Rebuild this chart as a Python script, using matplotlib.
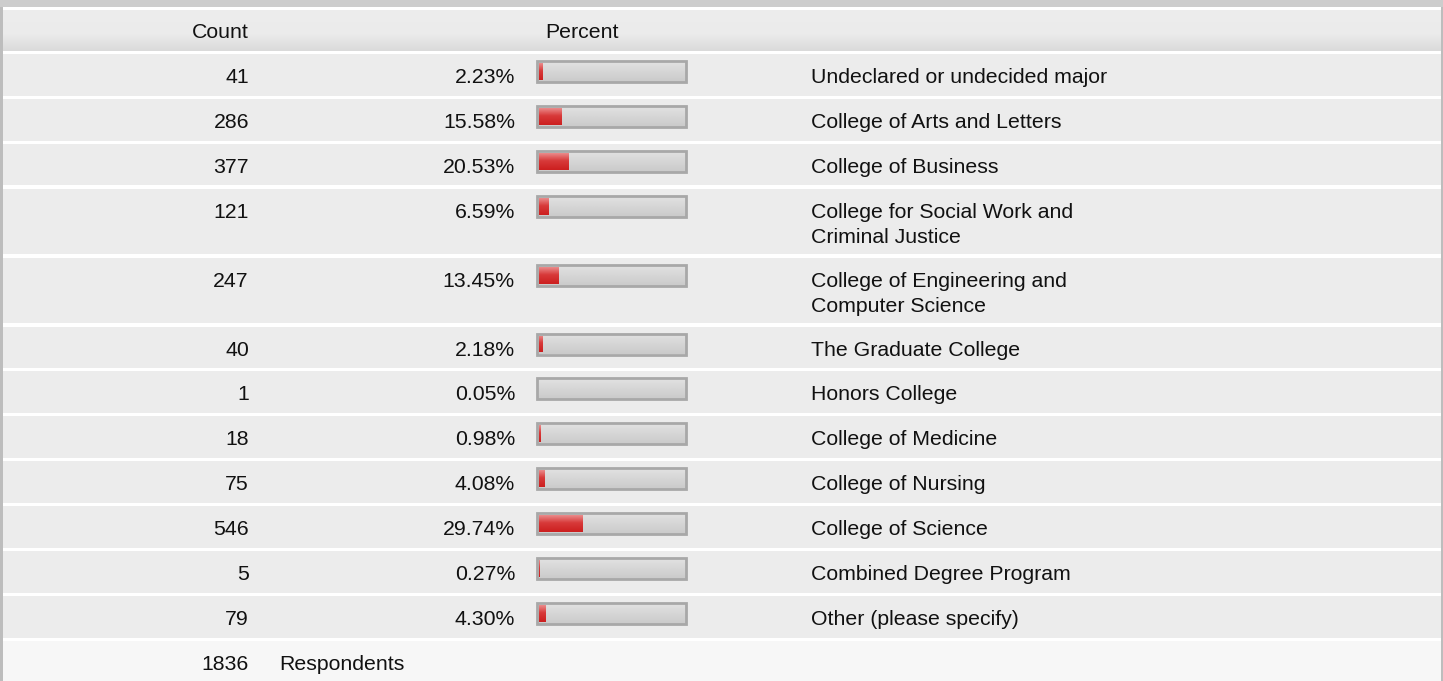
import numpy as np
import matplotlib
matplotlib.use("Agg")
import matplotlib.pyplot as plt
from matplotlib.colors import LinearSegmentedColormap

# ---------------- data ----------------
categories = [
    "Undeclared or undecided major",
    "College of Arts and Letters",
    "College of Business",
    "College for Social Work and\nCriminal Justice",
    "College of Engineering and\nComputer Science",
    "The Graduate College",
    "Honors College",
    "College of Medicine",
    "College of Nursing",
    "College of Science",
    "Combined Degree Program",
    "Other (please specify)",
]
counts = [41, 286, 377, 121, 247, 40, 1, 18, 75, 546, 5, 79]
percents = [2.23, 15.58, 20.53, 6.59, 13.45, 2.18, 0.05, 0.98, 4.08, 29.74, 0.27, 4.30]
total_respondents = 1836
header_count = "Count"
header_percent = "Percent"
footer_label = "Respondents"

# ---------------- layout ----------------
W, H = 1443, 681
plt.rcParams['font.family'] = ['Liberation Sans', 'DejaVu Sans']
FS = 15.3
TXT = '#111111'
fig = plt.figure(figsize=(W / 100, H / 100), dpi=100)
ax = fig.add_axes([0, 0, 1, 1])
ax.set_xlim(0, W)
ax.set_ylim(H, 0)
ax.axis('off')
fig.patch.set_facecolor('white')

row_bg = '#ececec'
# top band
ax.add_patch(plt.Rectangle((0, 0), W, 6.5, color='#cdcdcd', lw=0))

# header with gradient
hdr_top, hdr_bot = 10, 51
grad = np.linspace(0, 1, 50).reshape(-1, 1)
hdr_cmap = LinearSegmentedColormap.from_list('h', [(0, '#ededed'), (0.6, '#ebebeb'), (1, '#dadada')])
ax.imshow(grad, cmap=hdr_cmap, extent=(0, W, hdr_bot, hdr_top), aspect='auto', zorder=1)
ax.text(249, 33, header_count, ha='right', va='center', fontsize=FS, color=TXT, zorder=5)
ax.text(545, 33, header_percent, ha='left', va='center', fontsize=FS, color=TXT, zorder=5)

# row geometry
single_h, double_h, sep = 41.7, 65.7, 3.2
bar_left, bar_right = 537, 686
bar_h = 21
inner_pad = 2

gray_cmap = LinearSegmentedColormap.from_list('g', [(0, '#e2e2e2'), (1, '#cacaca')])
red_cmap = LinearSegmentedColormap.from_list('r', [(0, '#ea8a8a'), (0.45, '#d83a3a'), (1, '#cc1f1f')])

y = 54.0
for cat, cnt, pct in zip(categories, counts, percents):
    lines = cat.split('\n')
    h = single_h if len(lines) == 1 else double_h
    ax.add_patch(plt.Rectangle((0, y), W, h, color=row_bg, lw=0, zorder=1))
    ty = y + 23.5
    ax.text(249, ty, str(cnt), ha='right', va='center', fontsize=FS, color=TXT, zorder=5)
    ax.text(515, ty, f"{pct:.2f}%", ha='right', va='center', fontsize=FS, color=TXT, zorder=5)
    for k, line in enumerate(lines):
        ax.text(811, ty + 25 * k, line, ha='left', va='center', fontsize=FS, color=TXT, zorder=5)

    # bar frame
    bcy = y + 7 + bar_h / 2
    ax.barh(bcy, bar_right - bar_left, height=bar_h, left=bar_left,
            color='none', edgecolor='#a8a8a8', linewidth=2.0, zorder=4)
    ax.imshow(grad, cmap=gray_cmap, extent=(bar_left, bar_right, y + 7 + bar_h, y + 7),
              aspect='auto', zorder=2)
    inner_w = (bar_right - bar_left) - 2 * inner_pad
    fill_w = inner_w * pct / 100.0
    if fill_w >= 0.3:
        fill_w = max(fill_w, 1.0)
        rb = ax.barh(bcy, fill_w, height=bar_h - 2 * inner_pad, left=bar_left + inner_pad,
                     color='none', lw=0, zorder=3)[0]
        im = ax.imshow(grad, cmap=red_cmap,
                       extent=(bar_left + inner_pad, bar_left + inner_pad + fill_w,
                               y + 7 + bar_h - inner_pad, y + 7 + inner_pad),
                       aspect='auto', zorder=3)
        im.set_clip_path(rb)
    y += h + sep

# footer
ax.add_patch(plt.Rectangle((0, y), W, H - y, color='#f7f7f7', lw=0, zorder=1))
fy = y + 23.5
ax.text(249, fy, str(total_respondents), ha='right', va='center', fontsize=FS, color=TXT, zorder=5)
ax.text(279, fy, footer_label, ha='left', va='center', fontsize=FS, color=TXT, zorder=5)

# side borders
ax.add_patch(plt.Rectangle((0, 6.5), 2.5, H, color='#bdbdbd', lw=0, zorder=6))
ax.add_patch(plt.Rectangle((W - 2.5, 6.5), 2.5, H, color='#bdbdbd', lw=0, zorder=6))

ax.set_xlim(0, W)
ax.set_ylim(H, 0)
fig.savefig('out.png', dpi=100)
